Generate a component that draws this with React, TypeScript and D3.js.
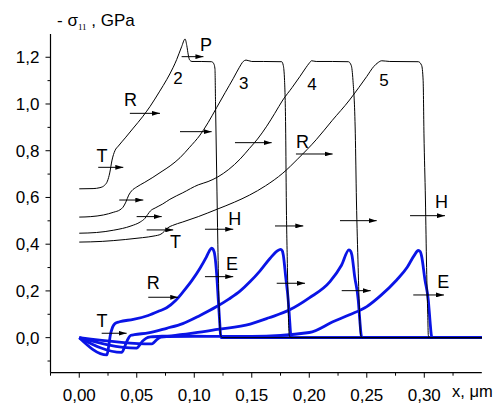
import React from "react";
import * as d3 from "d3";

type P = [number, number];

// Black stress profiles (labelled 2..5)
const k2: P[] = [[0,0.637],[0.012,0.638],[0.018,0.642],[0.022,0.652],[0.0245,0.67],[0.0265,0.705],[0.0285,0.76],[0.031,0.80],[0.034,0.82],[0.04,0.855],[0.047,0.897],[0.055,0.945],[0.0615,0.989],[0.07,1.055],[0.076,1.104],[0.0815,1.155],[0.0847,1.19],[0.089,1.245],[0.092,1.278],[0.0935,1.25],[0.0948,1.21],[0.096,1.188],[0.098,1.182],[0.106,1.182],[0.1151,1.181],[0.117,1.172],[0.118,1.15],[0.1185,1.0],[0.1195,0.7],[0.1205,0.4],[0.1215,0.15],[0.1225,0.03],[0.1235,0.003],[0.125,0],[0.35,0]];
const k3: P[] = [[0,0.516],[0.01,0.518],[0.021,0.525],[0.03,0.537],[0.0354,0.547],[0.038,0.558],[0.0405,0.58],[0.043,0.61],[0.0455,0.628],[0.05,0.645],[0.057,0.665],[0.064,0.686],[0.072,0.712],[0.079,0.735],[0.0876,0.77],[0.096,0.815],[0.105,0.867],[0.112,0.92],[0.1195,0.985],[0.127,1.05],[0.134,1.11],[0.139,1.155],[0.1426,1.182],[0.145,1.188],[0.15,1.182],[0.16,1.182],[0.176,1.181],[0.1774,1.165],[0.1785,1.1],[0.1795,0.875],[0.18,0.6],[0.181,0.3],[0.1818,0.1],[0.1826,0.01],[0.184,0],[0.35,0]];
const k4: P[] = [[0,0.447],[0.015,0.45],[0.03,0.46],[0.045,0.478],[0.053,0.495],[0.057,0.51],[0.0595,0.527],[0.062,0.543],[0.066,0.555],[0.0725,0.572],[0.0788,0.592],[0.09,0.62],[0.1035,0.654],[0.112,0.668],[0.1205,0.688],[0.13,0.72],[0.14,0.765],[0.148,0.81],[0.155,0.85],[0.163,0.905],[0.17,0.96],[0.177,1.017],[0.185,1.07],[0.1919,1.118],[0.197,1.155],[0.2,1.175],[0.202,1.185],[0.206,1.182],[0.22,1.182],[0.234,1.181],[0.2365,1.165],[0.238,1.1],[0.24,0.875],[0.241,0.589],[0.2425,0.3],[0.2437,0.1],[0.2447,0.01],[0.246,0],[0.35,0]];
const k5: P[] = [[0,0.409],[0.02,0.412],[0.04,0.42],[0.055,0.428],[0.065,0.435],[0.071,0.443],[0.074,0.455],[0.077,0.47],[0.081,0.48],[0.09,0.495],[0.1035,0.518],[0.12,0.55],[0.135,0.58],[0.148,0.61],[0.162,0.65],[0.177,0.704],[0.19,0.765],[0.206,0.847],[0.22,0.93],[0.235,1.017],[0.243,1.07],[0.25,1.118],[0.256,1.16],[0.26,1.178],[0.263,1.185],[0.27,1.182],[0.2948,1.181],[0.2977,1.165],[0.299,1.1],[0.2997,0.875],[0.301,0.589],[0.302,0.3],[0.303,0.1],[0.3035,0.01],[0.305,0],[0.35,0]];

// Blue profiles
const b1: P[] = [[0,0],[0.024,-0.074],[0.0255,-0.04],[0.027,0.01],[0.029,0.045],[0.031,0.06],[0.035,0.068],[0.047,0.078],[0.06,0.095],[0.07,0.115],[0.076,0.128],[0.084,0.16],[0.0904,0.197],[0.098,0.245],[0.105,0.297],[0.11,0.34],[0.113,0.37],[0.1151,0.383],[0.1165,0.377],[0.118,0.348],[0.1195,0.27],[0.1209,0.16],[0.1222,0.06],[0.1228,0.015],[0.1234,0],[0.35,0]];
const b2: P[] = [[0,0],[0.0369,-0.063],[0.039,-0.045],[0.041,-0.02],[0.043,0.0],[0.045,0.01],[0.048,0.013],[0.06,0.02],[0.076,0.04],[0.09,0.06],[0.105,0.095],[0.1195,0.133],[0.13,0.165],[0.14,0.2],[0.1486,0.24],[0.157,0.285],[0.166,0.34],[0.172,0.37],[0.175,0.378],[0.1765,0.372],[0.1774,0.354],[0.1795,0.26],[0.1817,0.16],[0.183,0.07],[0.1838,0.015],[0.1845,0],[0.35,0]];
const b3: P[] = [[0,0],[0.05,-0.045],[0.052,-0.035],[0.055,-0.015],[0.058,-0.003],[0.062,0.003],[0.08,0.008],[0.1,0.02],[0.12,0.035],[0.1486,0.058],[0.165,0.085],[0.183,0.119],[0.2,0.17],[0.218,0.24],[0.228,0.31],[0.2345,0.376],[0.236,0.37],[0.237,0.355],[0.2395,0.26],[0.2426,0.16],[0.244,0.07],[0.245,0.015],[0.2458,0],[0.35,0]];
const b4: P[] = [[0,0],[0.063,-0.027],[0.065,-0.02],[0.068,-0.006],[0.071,0.002],[0.076,0.005],[0.1,0.006],[0.15,0.005],[0.2,0.022],[0.221,0.069],[0.235,0.098],[0.25,0.133],[0.262,0.18],[0.276,0.247],[0.285,0.3],[0.291,0.35],[0.2948,0.373],[0.2965,0.368],[0.2977,0.348],[0.3005,0.25],[0.3035,0.16],[0.305,0.07],[0.306,0.015],[0.3068,0],[0.35,0]];

const blackCurves = [k2, k3, k4, k5];
const blueCurves = [b1, b2, b3, b4];

// Arrows: [x1, x2, y]
const arrows: [number, number, number][] = [
  [0.089, 0.108, 1.2026],
  [0.044, 0.0702, 0.96],
  [0.0876, 0.1151, 0.8816],
  [0.0165, 0.0383, 0.729],
  [0.1354, 0.1673, 0.8345],
  [0.1884, 0.2203, 0.786],
  [0.0348, 0.0557, 0.589],
  [0.0499, 0.0717, 0.518],
  [0.0586, 0.0817, 0.461],
  [0.1093, 0.1339, 0.464],
  [0.1702, 0.1948, 0.478],
  [0.2267, 0.2586, 0.5007],
  [0.2876, 0.318, 0.522],
  [0.1093, 0.1339, 0.261],
  [0.06, 0.0861, 0.1729],
  [0.0195, 0.0412, 0.0188],
  [0.1717, 0.1963, 0.2328],
  [0.2282, 0.2534, 0.2011],
  [0.2904, 0.3171, 0.1827],
];

// Letter annotations: [text, x, y(baseline)]
const letters: [string, number, number][] = [
  ["P", 0.105, 1.226],
  ["R", 0.039, 0.9915],
  ["T", 0.0151, 0.752],
  ["R", 0.1884, 0.8105],
  ["T", 0.0789, 0.3826],
  ["H", 0.1296, 0.482],
  ["H", 0.3093, 0.555],
  ["E", 0.1276, 0.2897],
  ["R", 0.0586, 0.207],
  ["T", 0.0151, 0.047],
  ["E", 0.3113, 0.2114],
];
const numbers: [string, number, number][] = [
  ["2", 0.0817, 1.0857],
  ["3", 0.1389, 1.0656],
  ["4", 0.1983, 1.06],
  ["5", 0.2609, 1.077],
];

const xMajor = [0, 0.05, 0.1, 0.15, 0.2, 0.25, 0.3];
const xMinor = [-0.025, 0.025, 0.075, 0.125, 0.175, 0.225, 0.275, 0.325];
const yMajor = [0, 0.2, 0.4, 0.6, 0.8, 1.0, 1.2];
const yMinor = [-0.1, 0.1, 0.3, 0.5, 0.7, 0.9, 1.1];

const FONT = "'Liberation Sans', Arial, sans-serif";

export default function App() {
  const x = d3.scaleLinear().domain([-0.025, 0.35]).range([50.5, 481.8]);
  const y = d3.scaleLinear().domain([-0.15, 1.3]).range([372.7, 33.9]);
  const line = d3
    .line<P>()
    .x((d) => x(d[0]))
    .y((d) => y(d[1]))
    .curve(d3.curveMonotoneX);
  const x0 = x.range()[0];
  const y0 = y.range()[0];
  const fmtX = (v: number) => v.toFixed(2).replace(".", ",");
  const fmtY = (v: number) => v.toFixed(1).replace(".", ",");

  return (
    <svg
      width={502}
      height={405}
      style={{ position: "absolute", left: 0, top: 0, background: "#fff" }}
      fontFamily={FONT}
    >
      <defs>
        <marker id="ah" viewBox="0 0 10 6" refX="10" refY="3" markerWidth="8" markerHeight="5" markerUnits="userSpaceOnUse" orient="auto">
          <path d="M0,0 L10,3 L0,6 Z" fill="#000" />
        </marker>
      </defs>
      {/* axes */}
      <line x1={x0} x2={x0} y1={y.range()[1]} y2={y0} stroke="#000" strokeWidth={1.2} />
      <line x1={x0} x2={x.range()[1]} y1={y0} y2={y0} stroke="#000" strokeWidth={1.2} />
      {yMajor.map((v) => (
        <g key={"ym" + v}>
          <line x1={x0 - 5} x2={x0} y1={y(v)} y2={y(v)} stroke="#000" strokeWidth={1} />
          <text x={x0 - 11} y={y(v)} dy="0.35em" textAnchor="end" fontSize={17}>
            {fmtY(v)}
          </text>
        </g>
      ))}
      {yMinor.map((v) => (
        <line key={"yn" + v} x1={x0 - 3} x2={x0} y1={y(v)} y2={y(v)} stroke="#000" strokeWidth={1} />
      ))}
      {xMajor.map((v) => (
        <g key={"xm" + v}>
          <line x1={x(v)} x2={x(v)} y1={y0} y2={y0 + 5} stroke="#000" strokeWidth={1} />
          <text x={x(v)} y={y0 + 28} textAnchor="middle" fontSize={17}>
            {fmtX(v)}
          </text>
        </g>
      ))}
      {xMinor.map((v) => (
        <line key={"xn" + v} x1={x(v)} x2={x(v)} y1={y0} y2={y0 + 3} stroke="#000" strokeWidth={1} />
      ))}
      <text x={452} y={396.5} fontSize={16.5}>x, μm</text>
      <text x={57} y={26} fontSize={17}>
        - σ
        <tspan fontSize={9} dy={4} fontFamily="'Liberation Serif', serif">11</tspan>
        <tspan dy={-4}> , GPa</tspan>
      </text>

      {/* curves */}
      {blueCurves.map((c, i) => (
        <path key={"b" + i} d={line(c) || ""} fill="none" stroke="#0a14e6" strokeWidth={2.8} strokeLinejoin="round" />
      ))}
      {blackCurves.map((c, i) => (
        <path key={"k" + i} d={line(c) || ""} fill="none" stroke="#000" strokeWidth={1} />
      ))}

      {/* arrows */}
      {arrows.map((a, i) => (
        <line key={"a" + i} x1={x(a[0])} x2={x(a[1])} y1={y(a[2])} y2={y(a[2])} stroke="#000" strokeWidth={1} markerEnd="url(#ah)" />
      ))}
      {letters.map((l, i) => (
        <text key={"l" + i} x={x(l[1])} y={y(l[2])} fontSize={18}>
          {l[0]}
        </text>
      ))}
      {numbers.map((l, i) => (
        <text key={"n" + i} x={x(l[1])} y={y(l[2])} fontSize={17}>
          {l[0]}
        </text>
      ))}
    </svg>
  );
}
